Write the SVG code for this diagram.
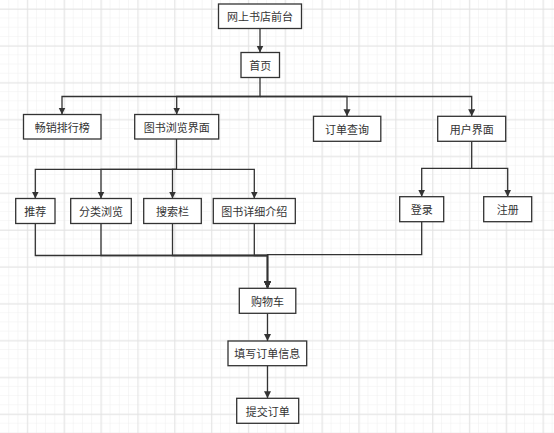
<svg xmlns="http://www.w3.org/2000/svg" width="554" height="433" viewBox="0 0 554 433">
<defs>
<style>
.node rect{fill:#ffffff;stroke:#333333;stroke-width:1.3}
.node text{font-family:"Noto Sans CJK SC","Noto Sans",sans-serif;font-size:11px;fill:#333333;text-anchor:middle;dominant-baseline:central}
.edges path{fill:none;stroke:#333333;stroke-width:1.3}
</style>
<pattern id="minor" width="9.21" height="9.21" patternUnits="userSpaceOnUse">
<path d="M9.21 0V9.21M0 9.21H9.21" fill="none" stroke="#efefef" stroke-width="1"/>
</pattern>
<pattern id="major" width="36.84" height="36.84" patternUnits="userSpaceOnUse">
<path d="M27.63 0V36.84M0 9.21H36.84" fill="none" stroke="#e3e3e3" stroke-width="1"/>
</pattern>
<marker id="arr" markerWidth="8" markerHeight="8" refX="7" refY="3.5" orient="auto" markerUnits="userSpaceOnUse">
<path d="M0 0L7 3.5L0 7Z" fill="#333333"/>
</marker>
</defs>
<rect width="554" height="433" fill="#ffffff"/>
<rect width="554" height="433" fill="url(#minor)"/>
<rect width="554" height="433" fill="url(#major)"/>
<g class="edges">
<path d="M260 28.5V52.5" marker-end="url(#arr)"/>
<path d="M260 77.5V96.5H62V114.5" marker-end="url(#arr)"/>
<path d="M260 96.5H176.7V114.5" marker-end="url(#arr)"/>
<path d="M260 96.5H347V116.3" marker-end="url(#arr)"/>
<path d="M260 96.5H471.7V116.3" marker-end="url(#arr)"/>
<path d="M176.5 139V169.3H35.3V198.5" marker-end="url(#arr)"/>
<path d="M176.5 169.3H101V198.5" marker-end="url(#arr)"/>
<path d="M176.5 169.3H172.5V198.5" marker-end="url(#arr)"/>
<path d="M176.5 169.3H254.3V198.5" marker-end="url(#arr)"/>
<path d="M471.7 141.3V168.3H421.7V196.7" marker-end="url(#arr)"/>
<path d="M471.7 168.3H507.7V196.7" marker-end="url(#arr)"/>
<path d="M35.3 223.5V255.5H267.5V288.3" marker-end="url(#arr)"/>
<path d="M101 223.5V255.5H267.5V288.3" marker-end="url(#arr)"/>
<path d="M172.5 223.5V255.5H267.5V288.3" marker-end="url(#arr)"/>
<path d="M254.3 223.5V255.5H267.5V288.3" marker-end="url(#arr)"/>
<path d="M421.7 221.7V254.7H267.5V288.3" marker-end="url(#arr)"/>
<path d="M267.5 313.3V341" marker-end="url(#arr)"/>
<path d="M267.5 365.7V398.3" marker-end="url(#arr)"/>
</g>
<g id="n-qiantai" class="node"><rect x="218.5" y="4" width="83" height="24.5"/><text x="260" y="16.3">网上书店前台</text></g>
<g id="n-shouye" class="node"><rect x="241" y="52.5" width="38.5" height="25"/><text x="260.2" y="65">首页</text></g>
<g id="n-changxiao" class="node"><rect x="23.5" y="114.5" width="77.5" height="24.5"/><text x="62.2" y="126.8">畅销排行榜</text></g>
<g id="n-liulan" class="node"><rect x="134.7" y="114.5" width="84" height="24.5"/><text x="176.7" y="126.8">图书浏览界面</text></g>
<g id="n-dingdan" class="node"><rect x="313.5" y="116.3" width="67.3" height="25"/><text x="347.1" y="128.8">订单查询</text></g>
<g id="n-yonghu" class="node"><rect x="437.7" y="116.3" width="68" height="25"/><text x="471.7" y="128.8">用户界面</text></g>
<g id="n-tuijian" class="node"><rect x="15.7" y="198.5" width="39.3" height="25"/><text x="35.3" y="211">推荐</text></g>
<g id="n-fenlei" class="node"><rect x="70.7" y="198.5" width="60.6" height="25"/><text x="101" y="211">分类浏览</text></g>
<g id="n-sousuo" class="node"><rect x="143.7" y="198.5" width="57.6" height="25"/><text x="172.5" y="211">搜索栏</text></g>
<g id="n-xiangxi" class="node"><rect x="213.3" y="198.5" width="82" height="25"/><text x="254.3" y="211">图书详细介绍</text></g>
<g id="n-denglu" class="node"><rect x="399.7" y="196.7" width="44" height="25"/><text x="421.7" y="209.2">登录</text></g>
<g id="n-zhuce" class="node"><rect x="483.7" y="196.7" width="48" height="25"/><text x="507.7" y="209.2">注册</text></g>
<g id="n-gouwuche" class="node"><rect x="239.3" y="288.3" width="56.5" height="25"/><text x="267.5" y="300.8">购物车</text></g>
<g id="n-tianxie" class="node"><rect x="228" y="341" width="78.7" height="24.7"/><text x="267.3" y="353.4">填写订单信息</text></g>
<g id="n-tijiao" class="node"><rect x="236.7" y="398.3" width="62" height="25"/><text x="267.7" y="410.8">提交订单</text></g>
</svg>
